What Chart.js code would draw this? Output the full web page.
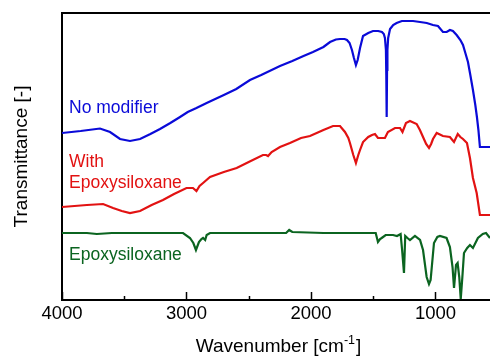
<!DOCTYPE html>
<html>
<head>
<meta charset="utf-8">
<script src="https://cdn.jsdelivr.net/npm/chart.js@4.4.0/dist/chart.umd.min.js"></script>
<style>
  html, body { margin: 0; padding: 0; background: #fff; overflow: hidden; }
</style>
</head>
<body>
<canvas id="ftir" width="490" height="356"></canvas>
<script>
// wavenumber [cm-1] and transmittance (arbitrary units, traces offset)
const noModWn = [4000, 3850, 3695, 3614, 3534, 3454, 3373, 3290, 3213, 3130, 3052, 2990, 2920, 2838, 2700, 2600, 2490, 2400, 2249, 2150, 2060, 1984, 1900, 1847, 1800, 1767, 1730, 1711, 1690, 1671, 1655, 1639, 1625, 1606, 1582, 1540, 1502, 1460, 1430, 1415, 1406, 1398, 1395, 1392, 1389, 1386, 1380, 1365, 1340, 1312, 1270, 1231, 1180, 1124, 1070, 1020, 980, 940, 910, 884, 860, 830, 800, 779, 760, 739, 720, 699, 680, 667, 655, 643, 620, 562];
const noModT = [167, 169, 171.5, 168, 161, 159, 161, 166, 171, 177, 183, 188, 192, 197, 205, 211, 220, 225, 234, 239, 244, 248, 253, 258, 260.5, 261, 261, 260, 257, 250, 242, 235, 240, 252, 264, 267, 269, 269, 268, 266, 262, 250, 225, 183, 230, 250, 262, 271, 275, 277, 279, 279, 279, 278, 277, 275, 274, 268, 268, 270, 269, 265, 260, 255, 247, 238, 225, 210, 195, 183, 170, 153, 153, 153];

const withEpWn = [4000, 3800, 3670, 3590, 3520, 3454, 3373, 3280, 3189, 3100, 3000, 2948, 2920, 2895, 2867, 2811, 2700, 2597, 2500, 2386, 2360, 2345, 2316, 2249, 2169, 2080, 2008, 1900, 1823, 1767, 1727, 1700, 1687, 1660, 1639, 1620, 1606, 1582, 1540, 1510, 1486, 1462, 1430, 1406, 1382, 1325, 1285, 1265, 1237, 1205, 1151, 1125, 1100, 1075, 1052, 1035, 1020, 990, 940, 884, 851, 821, 800, 779, 747, 723, 699, 669, 643, 620, 562];
const withEpT = [93, 95, 96, 92, 89, 87, 89, 95, 100, 106, 112, 112, 109, 114, 117, 123, 128, 132, 138, 145, 145, 144, 148, 153, 157, 162, 164, 170, 174, 174, 168, 162, 157, 145, 137, 145, 150, 158, 163, 165, 166, 162, 162, 162, 168, 172, 172, 168, 177, 179, 176, 170, 163, 156, 152, 156, 161, 167, 164, 163, 158, 166, 163, 161, 157, 142, 122, 107, 85, 85, 85];

const epoxWn = [4000, 3800, 3720, 3600, 3160, 3028, 2972, 2945, 2924, 2900, 2880, 2867, 2850, 2838, 2811, 2630, 2200, 2175, 2150, 1900, 1550, 1480, 1462, 1445, 1432, 1400, 1341, 1309, 1280, 1268, 1253, 1243, 1225, 1205, 1165, 1124, 1100, 1071, 1052, 1039, 1012, 985, 964, 911, 884, 863, 851, 835, 822, 809, 797, 784, 771, 745, 723, 699, 659, 620, 594, 562];
const epoxT = [67, 67, 66, 67, 67, 67, 62, 57, 50, 58, 61, 62, 60, 65, 67, 67, 67, 70, 68, 67, 67, 67, 58, 61, 62, 65, 65, 64, 66, 50, 27, 64, 62, 60, 64, 60, 50, 23, 16, 20, 57, 63, 64, 62, 53, 33, 12, 35, 37, 23, 1, 23, 47, 52, 55, 52, 62, 66, 67, 62];

const majorTicks = [4000, 3000, 2000, 1000];
const minorTicks = [3500, 2500, 1500];

const FONT = '"Liberation Sans", Arial, sans-serif';
const BLUE = '#0a0ad8';
const RED = '#e21212';
const GREEN = '#0b6420';

const pairs = (xs, ys) => xs.map((x, i) => ({ x: x, y: ys[i] }));

// frame top, inward ticks, trace labels, x title with superscript
const decorations = {
  id: 'decorations',
  afterDraw(chart) {
    const { ctx, chartArea } = chart;
    const xs = chart.scales.x;
    ctx.save();
    ctx.strokeStyle = '#000';
    ctx.lineWidth = 2;
    ctx.beginPath();
    ctx.moveTo(chartArea.left - 1, chartArea.top);
    ctx.lineTo(chartArea.right, chartArea.top);
    ctx.stroke();

    ctx.lineWidth = 1.5;
    majorTicks.forEach(v => {
      const px = Math.round(xs.getPixelForValue(v)) + 0.5;
      ctx.beginPath();
      ctx.moveTo(px, chartArea.bottom);
      ctx.lineTo(px, chartArea.bottom - 8);
      ctx.stroke();
    });
    minorTicks.forEach(v => {
      const px = Math.round(xs.getPixelForValue(v)) + 0.5;
      ctx.beginPath();
      ctx.moveTo(px, chartArea.bottom);
      ctx.lineTo(px, chartArea.bottom - 4);
      ctx.stroke();
    });

    ctx.font = '17.5px ' + FONT;
    ctx.textBaseline = 'alphabetic';
    ctx.textAlign = 'left';
    const lx = chartArea.left + 7;
    ctx.fillStyle = BLUE;
    ctx.fillText('No modifier', lx, 113);
    ctx.fillStyle = RED;
    ctx.fillText('With', lx, 167);
    ctx.fillText('Epoxysiloxane', lx, 188);
    ctx.fillStyle = GREEN;
    ctx.fillText('Epoxysiloxane', lx, 260);

    // x axis title
    ctx.fillStyle = '#000';
    const main = '19px ' + FONT;
    const sup = '12.5px ' + FONT;
    ctx.font = main;
    const w1 = ctx.measureText('Wavenumber [cm').width;
    const w3 = ctx.measureText(']').width;
    ctx.font = sup;
    const w2 = ctx.measureText('-1').width;
    let x0 = 278 - (w1 + w2 + w3) / 2;
    const base = 352;
    ctx.font = main;
    ctx.fillText('Wavenumber [cm', x0, base);
    ctx.font = sup;
    ctx.fillText('-1', x0 + w1, base - 8);
    ctx.font = main;
    ctx.fillText(']', x0 + w1 + w2 + 1, base);
    ctx.restore();
  }
};

new Chart(document.getElementById('ftir'), {
  type: 'line',
  data: {
    datasets: [
      { label: 'No modifier', data: pairs(noModWn, noModT), borderColor: BLUE },
      { label: 'With Epoxysiloxane', data: pairs(withEpWn, withEpT), borderColor: RED },
      { label: 'Epoxysiloxane', data: pairs(epoxWn, epoxT), borderColor: GREEN }
    ]
  },
  options: {
    responsive: false,
    animation: false,
    parsing: false,
    layout: { padding: { top: 13, right: 0, left: 0, bottom: 0 } },
    elements: {
      point: { radius: 0 },
      line: { borderWidth: 2.2, tension: 0 }
    },
    plugins: {
      legend: { display: false },
      tooltip: { enabled: false }
    },
    scales: {
      x: {
        type: 'linear',
        reverse: true,
        min: 562,
        max: 4000,
        afterBuildTicks: s => { s.ticks = majorTicks.map(v => ({ value: v })); },
        afterFit: s => { s.height = 56; },
        ticks: {
          font: { size: 18.5, family: FONT },
          color: '#000',
          padding: 3,
          maxRotation: 0,
          autoSkip: false,
          callback: v => String(v)
        },
        grid: { display: false, drawTicks: false },
        border: { display: true, color: '#000', width: 2 }
      },
      y: {
        min: 0,
        max: 287,
        afterFit: s => { s.width = 62; },
        ticks: { display: false },
        grid: { display: false, drawTicks: false },
        border: { display: true, color: '#000', width: 2 },
        title: {
          display: true,
          text: 'Transmittance [-]',
          font: { size: 19, family: FONT },
          color: '#000',
          padding: { top: 10, bottom: 0 }
        }
      }
    }
  },
  plugins: [decorations]
});
</script>
</body>
</html>
